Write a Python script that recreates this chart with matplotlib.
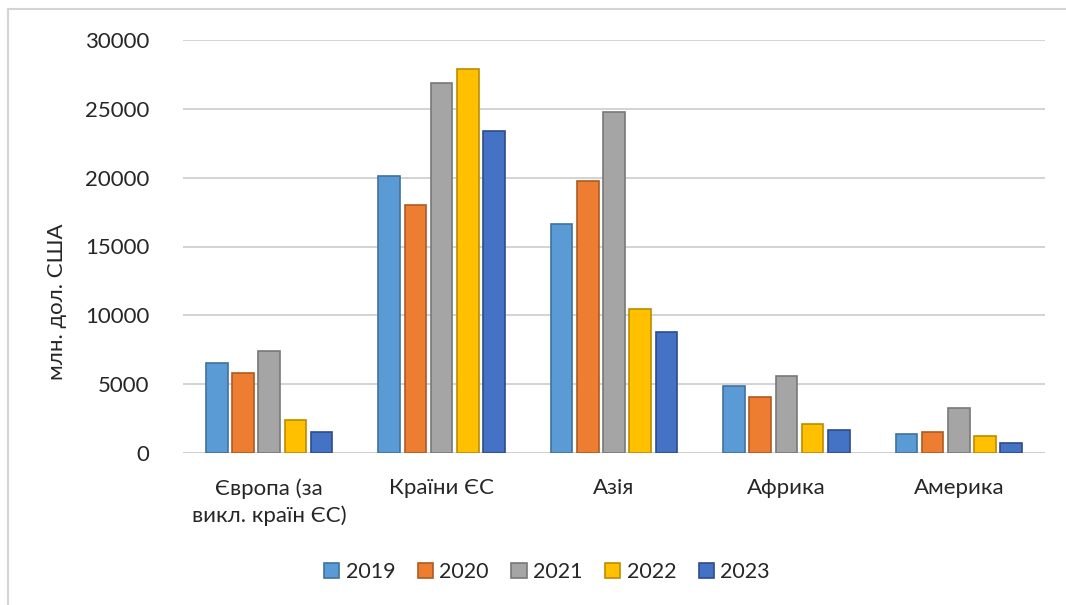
import numpy as np
import matplotlib.pyplot as plt
from matplotlib.lines import Line2D

plt.rcParams['font.family'] = ['Lato', 'DejaVu Sans']

# Regions and yearly values, mln USD
regions = ["Європа (за\nвикл. країн ЄС)", "Країни ЄС", "Азія", "Африка", "Америка"]
years = ["2019", "2020", "2021", "2022", "2023"]
v2019 = [6550, 20100, 16600, 4900, 1400]
v2020 = [5800, 18000, 19750, 4050, 1500]
v2021 = [7400, 26850, 24800, 5600, 3250]
v2022 = [2400, 27900, 10450, 2100, 1200]
v2023 = [1500, 23400, 8800, 1700, 750]
series = [v2019, v2020, v2021, v2022, v2023]

fills = ["#5B9BD5", "#ED7D31", "#A5A5A5", "#FFC000", "#4472C4"]
edges = ["#41719C", "#AE5A21", "#787878", "#BC8C00", "#2F4B8C"]
text_col = "#262626"

fig = plt.figure(figsize=(10.66, 6.05), dpi=100)
ax = fig.add_axes([183 / 1066, 1 - 453 / 605, 862 / 1066, 413 / 605])

x = np.arange(len(regions))
step = 0.152
width = 0.125
for i, (vals, fc, ec) in enumerate(zip(series, fills, edges)):
    ax.bar(x + (i - 2) * step, vals, width, color=fc, edgecolor=ec,
           linewidth=1.2, label=years[i], zorder=3)

ax.set_xlim(-0.5, len(regions) - 0.5)
ax.set_ylim(0, 30000)
ax.set_yticks(range(0, 30001, 5000))
ax.yaxis.grid(True, color="#D0D0D0", linewidth=1.3, zorder=0)
ax.set_axisbelow(True)
for side in ["top", "right", "left", "bottom"]:
    ax.spines[side].set_visible(False)
ax.axhline(0, color="#D0D0D0", linewidth=1.3, zorder=1)

ax.tick_params(axis="both", length=0, labelsize=16, colors=text_col)
ax.tick_params(axis="y", pad=24)
ax.tick_params(axis="x", pad=18)
ax.set_xticks(x)
ax.set_xticklabels(regions, fontsize=16, linespacing=1.4)

# axis title sits a bit below the middle of the value axis
fig.text(57 / 1066, 1 - 302 / 605, "млн. дол. США", rotation=90,
         ha="center", va="center", fontsize=16, color=text_col)

ax.legend(loc="center", bbox_to_anchor=(547 / 1066, 1 - 572 / 605),
          bbox_transform=fig.transFigure, ncol=5, frameon=False,
          fontsize=15.5, handlelength=0.7, handleheight=0.7,
          columnspacing=1.05, handletextpad=0.3, labelcolor=text_col)

# light outer frame along the top and left edges
fig.add_artist(Line2D([8 / 1066, 1], [1 - 9 / 605, 1 - 9 / 605],
                      transform=fig.transFigure, color="#D4D4D4", linewidth=1.5))
fig.add_artist(Line2D([8 / 1066, 8 / 1066], [0, 1 - 9 / 605],
                      transform=fig.transFigure, color="#D4D4D4", linewidth=1.5))

fig.savefig("out.png", dpi=100)
